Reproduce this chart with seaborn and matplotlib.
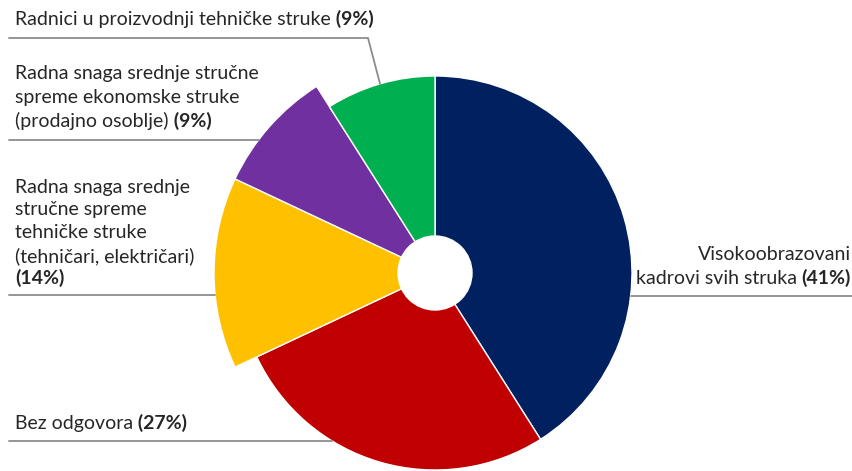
import matplotlib
matplotlib.use("Agg")
import matplotlib.pyplot as plt
import numpy as np
import seaborn as sns

# data
categories = ["Visokoobrazovani kadrovi svih struka",
              "Bez odgovora",
              "Radna snaga srednje stručne spreme tehničke struke (tehničari, električari)",
              "Radna snaga srednje stručne spreme ekonomske struke (prodajno osoblje)",
              "Radnici u proizvodnji tehničke struke"]
shares = [41, 27, 14, 9, 9]
pct_labels = ["(41%)", "(27%)", "(14%)", "(9%)", "(9%)"]
colors = ["#002060", "#C00000", "#FFC000", "#7030A0", "#00B050"]

sns.set_theme(style="white")
plt.rcParams['font.family'] = ['Lato', 'DejaVu Sans']

W, H = 853, 471
CX, CY = 435, 273          # pie centre in pixels (from top-left)
fig = plt.figure(figsize=(W / 100, H / 100), dpi=100)
ax = fig.add_axes([0, 0, 1, 1])

R = 197
R_BIG = 221
wedges, _ = ax.pie(shares, colors=sns.color_palette(colors), startangle=90,
                   counterclock=False, radius=R,
                   wedgeprops=dict(edgecolor="white", linewidth=1))
for i in (2, 3):
    wedges[i].set_radius(R_BIG)
ax.add_patch(plt.Circle((0, 0), 37, color="white", zorder=5))

ax.set_xlim(-CX, W - CX)
ax.set_ylim(CY - H, CY)
ax.set_aspect("equal", adjustable="box")
ax.axis("off")


def px(x, y):
    return x - CX, CY - y


txt_color = "#262626"
fs = 14
line_c = "#8c8c8c"


def put_line(x, y, normal, bold=None, ha="left"):
    xx, yy = px(x, y)
    if ha == "left":
        t = ax.text(xx, yy, normal, fontsize=fs, color=txt_color, va="center", ha="left")
        if bold:
            ax.annotate(" " + bold, xy=(1, 0), xycoords=t, va="bottom", ha="left",
                        fontsize=fs, fontweight="bold", color=txt_color)
    else:
        b = ax.text(xx, yy, bold, fontsize=fs, fontweight="bold", color=txt_color,
                    va="center", ha="right")
        ax.annotate(normal + " ", xy=(0, 0), xycoords=b, va="bottom", ha="right",
                    fontsize=fs, color=txt_color)


# label: Radnici u proizvodnji
put_line(15, 20, categories[4], pct_labels[4])
ang = np.deg2rad(90 + 360 * shares[4] / 200)
ex, ey = R * np.cos(ang), R * np.sin(ang)
ax.plot([-426, -67, ex], [CY - 38, CY - 38, ey], color=line_c, lw=1.3, clip_on=False)

# label: ekonomske struke
put_line(15, 74, "Radna snaga srednje stručne")
put_line(15, 98, "spreme ekonomske struke")
put_line(15, 121, "(prodajno osoblje)", pct_labels[3])
y = CY - 140
ax.plot([-426, -np.sqrt(R_BIG ** 2 - y ** 2)], [y, y], color=line_c, lw=1.3)

# label: tehničke struke
put_line(15, 187, "Radna snaga srednje")
put_line(15, 210, "stručne spreme")
put_line(15, 233, "tehničke struke")
put_line(15, 256, "(tehničari, električari)")
xx, yy = px(15, 278)
ax.text(xx, yy, pct_labels[2], fontsize=fs, fontweight="bold", color=txt_color, va="center")
y = CY - 295
ax.plot([-426, -np.sqrt(R_BIG ** 2 - y ** 2)], [y, y], color=line_c, lw=1.3)

# label: Bez odgovora
put_line(15, 424, categories[1], pct_labels[1])
y = CY - 441
ax.plot([-426, -np.sqrt(R ** 2 - y ** 2)], [y, y], color=line_c, lw=1.3)

# label: Visokoobrazovani
xx, yy = px(851, 255)
ax.text(xx, yy, "Visokoobrazovani", fontsize=fs, color=txt_color, va="center", ha="right")
put_line(851, 278, "kadrovi svih struka", pct_labels[0], ha="right")
y = CY - 296
ax.plot([np.sqrt(R ** 2 - y ** 2), W - CX], [y, y], color=line_c, lw=1.3)

fig.savefig("out.png", dpi=100)
